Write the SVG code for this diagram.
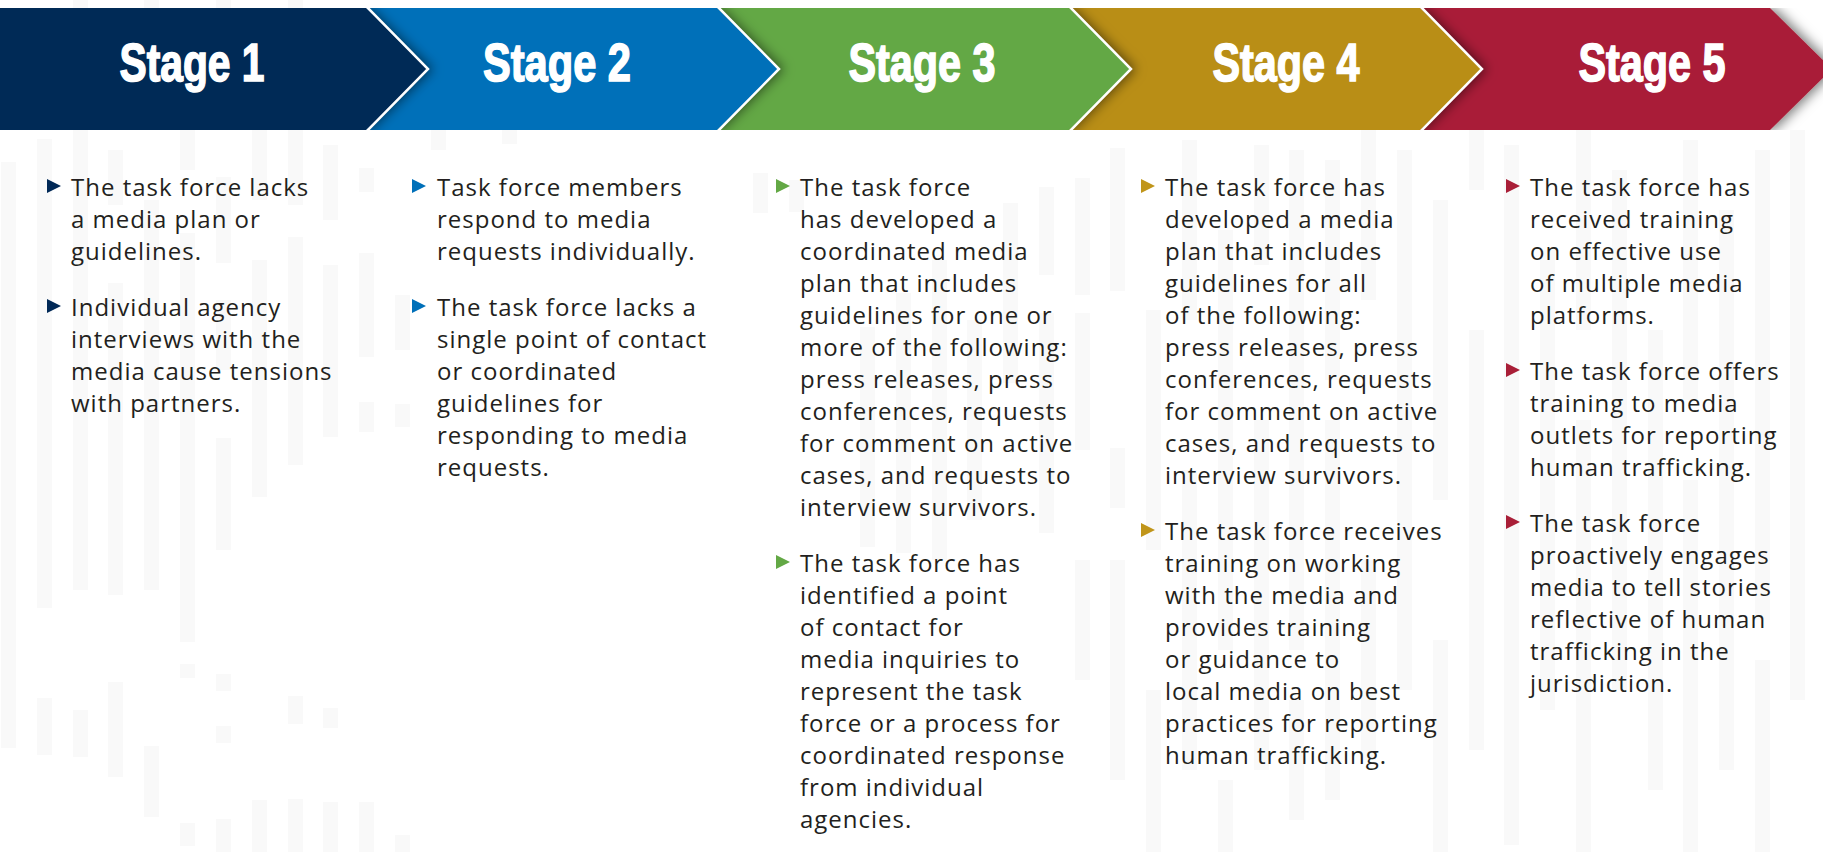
<svg xmlns="http://www.w3.org/2000/svg" xmlns:xlink="http://www.w3.org/1999/xlink" width="1823" height="852" viewBox="0 0 1823 852">
  <defs>
    <style>
      .bar { fill: #f9f9f9; }
      .title { font-family: "Liberation Sans", Arial, sans-serif; font-weight: bold; font-size: 54px; fill: #ffffff; stroke: #ffffff; stroke-width: 1.6px; text-anchor: middle; }
      .body { font-family: "Open Sans", "Noto Sans", sans-serif; font-size: 24px; letter-spacing: 1px; fill: #231f20; }
      .sep { fill: none; stroke: #ffffff; stroke-width: 2.5; stroke-linejoin: miter; }
    </style>
    <filter id="castShadow" x="-5%" y="-20%" width="115%" height="140%">
      <feDropShadow dx="5" dy="0" stdDeviation="6" flood-color="#000000" flood-opacity="0.5"/>
    </filter>
    <clipPath id="band">
      <rect x="0" y="8" width="1823" height="122"/>
    </clipPath>
    <path id="tri" d="M0 0 L14 7 L0 14 Z"/>
  </defs>

  <rect width="1823" height="852" fill="#ffffff"/>

  <!-- faint vertical stripes in the background -->
  <g id="stripes">
    <rect class="bar" x="1" y="162" width="15" height="586"/>
    <rect class="bar" x="37" y="139" width="15" height="469"/>
    <rect class="bar" x="37" y="698" width="15" height="57"/>
    <rect class="bar" x="73" y="0" width="15" height="8"/>
    <rect class="bar" x="73" y="130" width="15" height="460"/>
    <rect class="bar" x="73" y="710" width="15" height="47"/>
    <rect class="bar" x="108" y="150" width="15" height="55"/>
    <rect class="bar" x="108" y="283" width="15" height="312"/>
    <rect class="bar" x="108" y="682" width="15" height="95"/>
    <rect class="bar" x="144" y="0" width="15" height="8"/>
    <rect class="bar" x="144" y="200" width="15" height="390"/>
    <rect class="bar" x="144" y="746" width="15" height="71"/>
    <rect class="bar" x="180" y="130" width="15" height="40"/>
    <rect class="bar" x="180" y="233" width="15" height="409"/>
    <rect class="bar" x="180" y="664" width="15" height="14"/>
    <rect class="bar" x="180" y="823" width="15" height="23"/>
    <rect class="bar" x="216" y="0" width="15" height="8"/>
    <rect class="bar" x="216" y="177" width="15" height="86"/>
    <rect class="bar" x="216" y="300" width="15" height="70"/>
    <rect class="bar" x="216" y="438" width="15" height="112"/>
    <rect class="bar" x="216" y="674" width="15" height="17"/>
    <rect class="bar" x="216" y="726" width="15" height="17"/>
    <rect class="bar" x="216" y="819" width="15" height="33"/>
    <rect class="bar" x="252" y="130" width="15" height="70"/>
    <rect class="bar" x="252" y="260" width="15" height="237"/>
    <rect class="bar" x="252" y="800" width="15" height="52"/>
    <rect class="bar" x="288" y="0" width="15" height="8"/>
    <rect class="bar" x="288" y="130" width="15" height="75"/>
    <rect class="bar" x="288" y="237" width="15" height="228"/>
    <rect class="bar" x="288" y="696" width="15" height="28"/>
    <rect class="bar" x="288" y="799" width="15" height="53"/>
    <rect class="bar" x="323" y="145" width="15" height="75"/>
    <rect class="bar" x="323" y="265" width="15" height="172"/>
    <rect class="bar" x="323" y="708" width="15" height="20"/>
    <rect class="bar" x="323" y="802" width="15" height="50"/>
    <rect class="bar" x="359" y="168" width="15" height="24"/>
    <rect class="bar" x="359" y="253" width="15" height="104"/>
    <rect class="bar" x="359" y="402" width="15" height="30"/>
    <rect class="bar" x="359" y="802" width="15" height="50"/>
    <rect class="bar" x="395" y="295" width="15" height="55"/>
    <rect class="bar" x="395" y="404" width="15" height="23"/>
    <rect class="bar" x="395" y="835" width="15" height="17"/>
    <rect class="bar" x="431" y="130" width="15" height="20"/>
    <rect class="bar" x="502" y="130" width="15" height="14"/>
    <rect class="bar" x="753" y="173" width="15" height="40"/>
    <rect class="bar" x="789" y="180" width="15" height="32"/>
    <rect class="bar" x="860" y="327" width="15" height="220"/>
    <rect class="bar" x="896" y="293" width="15" height="260"/>
    <rect class="bar" x="932" y="260" width="15" height="300"/>
    <rect class="bar" x="967" y="320" width="15" height="200"/>
    <rect class="bar" x="1003" y="203" width="15" height="180"/>
    <rect class="bar" x="1039" y="187" width="15" height="88"/>
    <rect class="bar" x="1039" y="313" width="15" height="220"/>
    <rect class="bar" x="1075" y="178" width="15" height="117"/>
    <rect class="bar" x="1075" y="313" width="15" height="137"/>
    <rect class="bar" x="1075" y="560" width="15" height="120"/>
    <rect class="bar" x="1110" y="148" width="15" height="143"/>
    <rect class="bar" x="1110" y="448" width="15" height="60"/>
    <rect class="bar" x="1110" y="560" width="15" height="220"/>
    <rect class="bar" x="1146" y="310" width="15" height="240"/>
    <rect class="bar" x="1146" y="690" width="15" height="162"/>
    <rect class="bar" x="1182" y="140" width="15" height="180"/>
    <rect class="bar" x="1182" y="470" width="15" height="300"/>
    <rect class="bar" x="1218" y="230" width="15" height="420"/>
    <rect class="bar" x="1218" y="780" width="15" height="72"/>
    <rect class="bar" x="1254" y="145" width="15" height="120"/>
    <rect class="bar" x="1254" y="420" width="15" height="350"/>
    <rect class="bar" x="1289" y="150" width="15" height="500"/>
    <rect class="bar" x="1289" y="700" width="15" height="120"/>
    <rect class="bar" x="1325" y="160" width="15" height="220"/>
    <rect class="bar" x="1325" y="420" width="15" height="380"/>
    <rect class="bar" x="1361" y="130" width="15" height="170"/>
    <rect class="bar" x="1361" y="560" width="15" height="200"/>
    <rect class="bar" x="1397" y="150" width="15" height="540"/>
    <rect class="bar" x="1433" y="200" width="15" height="300"/>
    <rect class="bar" x="1433" y="640" width="15" height="212"/>
    <rect class="bar" x="1469" y="130" width="15" height="60"/>
    <rect class="bar" x="1469" y="330" width="15" height="420"/>
    <rect class="bar" x="1504" y="145" width="15" height="700"/>
    <rect class="bar" x="1540" y="250" width="15" height="460"/>
    <rect class="bar" x="1576" y="130" width="15" height="200"/>
    <rect class="bar" x="1576" y="420" width="15" height="432"/>
    <rect class="bar" x="1612" y="170" width="15" height="520"/>
    <rect class="bar" x="1648" y="330" width="15" height="460"/>
    <rect class="bar" x="1683" y="140" width="15" height="260"/>
    <rect class="bar" x="1683" y="480" width="15" height="372"/>
    <rect class="bar" x="1719" y="210" width="15" height="560"/>
    <rect class="bar" x="1755" y="150" width="15" height="470"/>
    <rect class="bar" x="1755" y="660" width="15" height="192"/>
    <rect class="bar" x="1790" y="130" width="15" height="570"/>
  </g>

  <!-- Stage 5 -->
  <g id="stage5">
    <g clip-path="url(#band)">
      <polygon points="1420,8 1770,8 1832,69 1770,130 1420,130 1482,69" fill="#a91f38" filter="url(#castShadow)"/>
    </g>
    <text class="title" x="1652" y="81" textLength="147" lengthAdjust="spacingAndGlyphs">Stage 5</text>
    <use xlink:href="#tri" href="#tri" x="1506" y="179" fill="#a91f38"/>
    <use xlink:href="#tri" href="#tri" x="1506" y="363" fill="#a91f38"/>
    <use xlink:href="#tri" href="#tri" x="1506" y="515" fill="#a91f38"/>
    <text class="body" x="1530" y="196">
      <tspan x="1530" y="196">The task force has</tspan>
      <tspan x="1530" dy="32">received training</tspan>
      <tspan x="1530" dy="32">on effective use</tspan>
      <tspan x="1530" dy="32">of multiple media</tspan>
      <tspan x="1530" dy="32">platforms.</tspan>
    </text>
    <text class="body" x="1530" y="380">
      <tspan x="1530" y="380">The task force offers</tspan>
      <tspan x="1530" dy="32">training to media</tspan>
      <tspan x="1530" dy="32">outlets for reporting</tspan>
      <tspan x="1530" dy="32">human trafficking.</tspan>
    </text>
    <text class="body" x="1530" y="532">
      <tspan x="1530" y="532">The task force</tspan>
      <tspan x="1530" dy="32">proactively engages</tspan>
      <tspan x="1530" dy="32">media to tell stories</tspan>
      <tspan x="1530" dy="32">reflective of human</tspan>
      <tspan x="1530" dy="32">trafficking in the</tspan>
      <tspan x="1530" dy="32">jurisdiction.</tspan>
    </text>
  </g>

  <!-- Stage 4 -->
  <g id="stage4">
    <g clip-path="url(#band)">
      <polygon points="1069,8 1420,8 1482,69 1420,130 1069,130 1131,69" fill="#b98e12" filter="url(#castShadow)"/>
      <polyline class="sep" points="1420,6 1482,69 1420,132"/>
    </g>
    <text class="title" x="1286" y="81" textLength="147" lengthAdjust="spacingAndGlyphs">Stage 4</text>
    <use xlink:href="#tri" href="#tri" x="1141" y="179" fill="#c0951a"/>
    <use xlink:href="#tri" href="#tri" x="1141" y="523" fill="#c0951a"/>
    <text class="body" x="1165" y="196">
      <tspan x="1165" y="196">The task force has</tspan>
      <tspan x="1165" dy="32">developed a media</tspan>
      <tspan x="1165" dy="32">plan that includes</tspan>
      <tspan x="1165" dy="32">guidelines for all</tspan>
      <tspan x="1165" dy="32">of the following:</tspan>
      <tspan x="1165" dy="32">press releases, press</tspan>
      <tspan x="1165" dy="32">conferences, requests</tspan>
      <tspan x="1165" dy="32">for comment on active</tspan>
      <tspan x="1165" dy="32">cases, and requests to</tspan>
      <tspan x="1165" dy="32">interview survivors.</tspan>
    </text>
    <text class="body" x="1165" y="540">
      <tspan x="1165" y="540">The task force receives</tspan>
      <tspan x="1165" dy="32">training on working</tspan>
      <tspan x="1165" dy="32">with the media and</tspan>
      <tspan x="1165" dy="32">provides training</tspan>
      <tspan x="1165" dy="32">or guidance to</tspan>
      <tspan x="1165" dy="32">local media on best</tspan>
      <tspan x="1165" dy="32">practices for reporting</tspan>
      <tspan x="1165" dy="32">human trafficking.</tspan>
    </text>
  </g>

  <!-- Stage 3 -->
  <g id="stage3">
    <g clip-path="url(#band)">
      <polygon points="717,8 1069,8 1131,69 1069,130 717,130 779,69" fill="#63a845" filter="url(#castShadow)"/>
      <polyline class="sep" points="1069,6 1131,69 1069,132"/>
    </g>
    <text class="title" x="922" y="81" textLength="147" lengthAdjust="spacingAndGlyphs">Stage 3</text>
    <use xlink:href="#tri" href="#tri" x="776" y="179" fill="#63a845"/>
    <use xlink:href="#tri" href="#tri" x="776" y="555" fill="#63a845"/>
    <text class="body" x="800" y="196">
      <tspan x="800" y="196">The task force</tspan>
      <tspan x="800" dy="32">has developed a</tspan>
      <tspan x="800" dy="32">coordinated media</tspan>
      <tspan x="800" dy="32">plan that includes</tspan>
      <tspan x="800" dy="32">guidelines for one or</tspan>
      <tspan x="800" dy="32">more of the following:</tspan>
      <tspan x="800" dy="32">press releases, press</tspan>
      <tspan x="800" dy="32">conferences, requests</tspan>
      <tspan x="800" dy="32">for comment on active</tspan>
      <tspan x="800" dy="32">cases, and requests to</tspan>
      <tspan x="800" dy="32">interview survivors.</tspan>
    </text>
    <text class="body" x="800" y="572">
      <tspan x="800" y="572">The task force has</tspan>
      <tspan x="800" dy="32">identified a point</tspan>
      <tspan x="800" dy="32">of contact for</tspan>
      <tspan x="800" dy="32">media inquiries to</tspan>
      <tspan x="800" dy="32">represent the task</tspan>
      <tspan x="800" dy="32">force or a process for</tspan>
      <tspan x="800" dy="32">coordinated response</tspan>
      <tspan x="800" dy="32">from individual</tspan>
      <tspan x="800" dy="32">agencies.</tspan>
    </text>
  </g>

  <!-- Stage 2 -->
  <g id="stage2">
    <g clip-path="url(#band)">
      <polygon points="366,8 717,8 779,69 717,130 366,130 428,69" fill="#0070b9" filter="url(#castShadow)"/>
      <polyline class="sep" points="717,6 779,69 717,132"/>
    </g>
    <text class="title" x="557" y="81" textLength="148" lengthAdjust="spacingAndGlyphs">Stage 2</text>
    <use xlink:href="#tri" href="#tri" x="412" y="179" fill="#0070b9"/>
    <use xlink:href="#tri" href="#tri" x="412" y="299" fill="#0070b9"/>
    <text class="body" x="437" y="196">
      <tspan x="437" y="196">Task force members</tspan>
      <tspan x="437" dy="32">respond to media</tspan>
      <tspan x="437" dy="32">requests individually.</tspan>
    </text>
    <text class="body" x="437" y="316">
      <tspan x="437" y="316">The task force lacks a</tspan>
      <tspan x="437" dy="32">single point of contact</tspan>
      <tspan x="437" dy="32">or coordinated</tspan>
      <tspan x="437" dy="32">guidelines for</tspan>
      <tspan x="437" dy="32">responding to media</tspan>
      <tspan x="437" dy="32">requests.</tspan>
    </text>
  </g>

  <!-- Stage 1 -->
  <g id="stage1">
    <g clip-path="url(#band)">
      <polygon points="0,8 366,8 428,69 366,130 0,130" fill="#012957" filter="url(#castShadow)"/>
      <polyline class="sep" points="366,6 428,69 366,132"/>
    </g>
    <text class="title" x="192" y="81" textLength="145" lengthAdjust="spacingAndGlyphs">Stage 1</text>
    <use xlink:href="#tri" href="#tri" x="47" y="179" fill="#012957"/>
    <use xlink:href="#tri" href="#tri" x="47" y="299" fill="#012957"/>
    <text class="body" x="71" y="196">
      <tspan x="71" y="196">The task force lacks</tspan>
      <tspan x="71" dy="32">a media plan or</tspan>
      <tspan x="71" dy="32">guidelines.</tspan>
    </text>
    <text class="body" x="71" y="316">
      <tspan x="71" y="316">Individual agency</tspan>
      <tspan x="71" dy="32">interviews with the</tspan>
      <tspan x="71" dy="32">media cause tensions</tspan>
      <tspan x="71" dy="32">with partners.</tspan>
    </text>
  </g>
</svg>
